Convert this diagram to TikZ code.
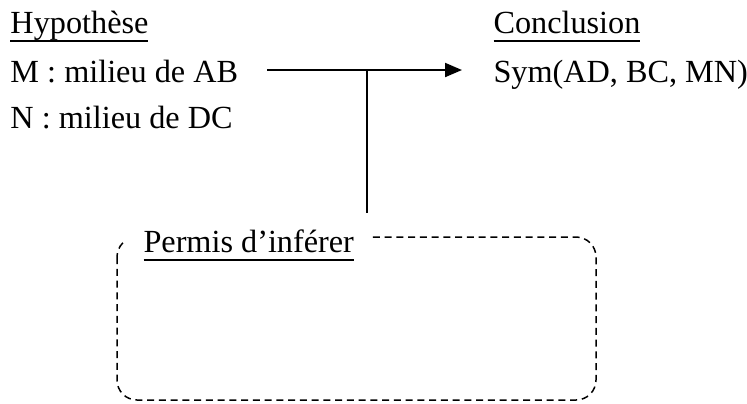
\documentclass[tikz,border=0pt]{standalone}
\usepackage{fontspec}
\setmainfont{Liberation Serif}
\usetikzlibrary{arrows.meta}
\newlength\ulw
\newcommand{\myul}[1]{\settowidth{\ulw}{#1}#1\hspace{-\ulw}\rule[-3.5pt]{\ulw}{0.6pt}}
\begin{document}
\begin{tikzpicture}[x=0.4pt,y=-0.4pt,
  txt/.style={anchor=base west, inner sep=0pt, font=\fontsize{12.9}{15}\selectfont},
  conn/.style={line width=0.8pt},
  tip/.style={-{Triangle[length=6.8pt,width=5.6pt]}},
  dashbox/.style={line width=0.6pt, dash pattern=on 2.8pt off 1.9pt, rounded corners=8pt},
  lbl/.style={txt, fill=white, inner xsep=7pt, inner ysep=2pt}]
\useasboundingbox (0,0) rectangle (747,403);
\node[txt] (hyp) at (10,33) {\myul{Hypothèse}};
\node[txt] (m) at (10,82) {M : milieu de AB};
\node[txt] (n) at (10,128) {N : milieu de DC};
\node[txt] (conc) at (493,33) {\myul{Conclusion}};
\node[txt] (sym) at (493,82) {Sym(AD, BC, MN)};
\coordinate (start) at (267,70);
\coordinate (end) at (462,70);
\coordinate (junc) at (367,70);
\coordinate (vb) at (367,213);
\draw[conn, tip] (start) -- (end);
\draw[conn] (junc) -- (vb);
\draw[dashbox] (117,237) rectangle (596,400);
\node[lbl] (permis) at (125.5,252) {\myul{Permis d’inférer}};
\end{tikzpicture}
\end{document}
